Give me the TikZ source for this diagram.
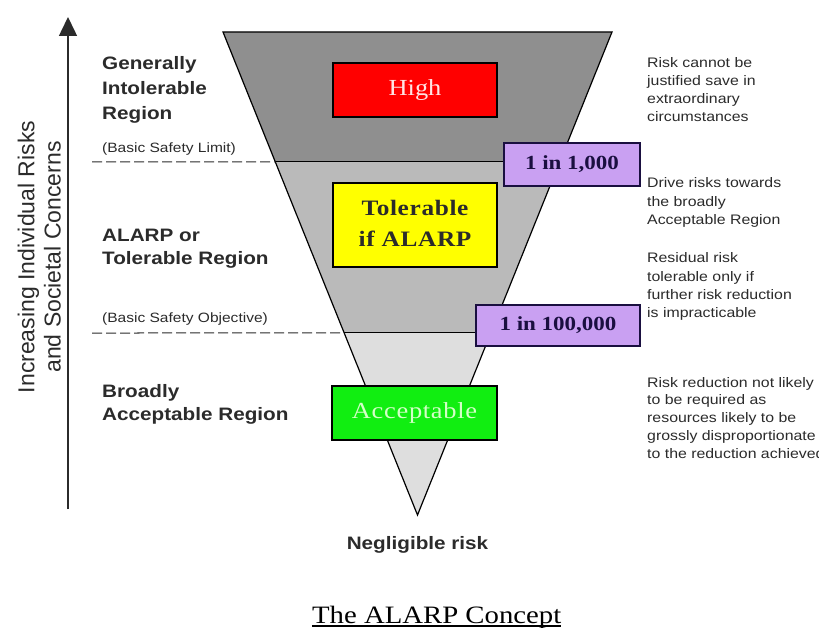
\documentclass[tikz,border=0pt]{standalone}
\usepackage{fontspec}
\setmainfont{Liberation Serif}
\newfontfamily\widesans[FakeStretch=1.15]{Liberation Sans}
\newfontfamily\wideserif[FakeStretch=1.15]{Liberation Serif}
\newfontfamily\boxserif[FakeStretch=1.15,LetterSpace=3]{Liberation Serif}
\newfontfamily\plainsans{Liberation Sans}
\usetikzlibrary{arrows.meta,calc}

\definecolor{bandtop}{HTML}{8F8F8F}
\definecolor{bandmid}{HTML}{BABABA}
\definecolor{bandlow}{HTML}{DEDEDE}
\definecolor{boxred}{HTML}{FF0000}
\definecolor{boxyellow}{HTML}{FFFF00}
\definecolor{boxgreen}{HTML}{11EE11}
\definecolor{boxlilac}{HTML}{C9A0F2}
\definecolor{inkgray}{HTML}{2B2B2B}
\definecolor{navyink}{HTML}{1A0F40}
\definecolor{pinkink}{HTML}{FFE4E4}
\definecolor{mintink}{HTML}{D4FFC8}

% left-aligned stack whose reference point is the first baseline
\newcommand{\stackl}[1]{\begin{tabular}[t]{@{}l@{}}#1\end{tabular}}
\newcommand{\stackc}[1]{\begin{tabular}{@{}c@{}}#1\end{tabular}}

\begin{document}
\begin{tikzpicture}[x=1pt,y=-1pt,
  levelbox/.style={draw=black,line width=2.6pt,inner sep=0pt},
  ratebox/.style={draw=navyink,line width=2.6pt,inner sep=0pt,fill=boxlilac,
    text=navyink,font=\wideserif\bfseries\fontsize{20}{24}\selectfont},
  zonelabel/.style={anchor=base west,inner sep=0pt,text=inkgray},
  limitlabel/.style={anchor=base west,inner sep=0pt,text=inkgray,
    font=\widesans\fontsize{13.5}{16}\selectfont},
  advice/.style={anchor=base west,inner sep=0pt,text=inkgray},
  limitline/.style={inkgray,line width=1pt,dash pattern=on 10pt off 4pt},
]
\useasboundingbox (0,0) rectangle (819,628);
\fill[white] (0,0) rectangle (819,628);

% funnel corners and band boundaries
\coordinate (TL) at (223,32);
\coordinate (TR) at (612,32);
\coordinate (AP) at (417.5,515);
\coordinate (L1) at ($(TL)!0.26915!(AP)$);
\coordinate (R1) at ($(TR)!0.26915!(AP)$);
\coordinate (L2) at ($(TL)!0.62319!(AP)$);
\coordinate (R2) at ($(TR)!0.62319!(AP)$);

\fill[bandtop] (TL) -- (TR) -- (R1) -- (L1) -- cycle;
\fill[bandmid] (L1) -- (R1) -- (R2) -- (L2) -- cycle;
\fill[bandlow] (L2) -- (R2) -- (AP) -- cycle;
\draw[black,line width=1.2pt,line join=miter] (TL) -- (TR) -- (AP) -- cycle;
\draw[black,line width=1pt] (L1) -- (R1);
\draw[black,line width=1pt] (L2) -- (R2);

% vertical axis
\coordinate (axisbot) at (68,509);
\coordinate (axistop) at (68,17);
\draw[inkgray,line width=1.5pt,-{Triangle[width=18pt,length=19pt]}] (axisbot) -- (axistop);
\node[rotate=90,inner sep=0pt,text=inkgray,font=\plainsans\fontsize{23}{26}\selectfont]
  (axislabel) at (42.3,257) {\stackc{Increasing Individual Risks\\and Societal Concerns}};

% limit lines
\coordinate (bslstart) at (92,162);
\coordinate (bsostart) at (92,333);
\draw[limitline] (bslstart) -- (L1);
\draw[limitline] (bsostart) -- (L2);

% region boxes
\node[levelbox,fill=boxred,minimum width=164pt,minimum height=54pt,text=pinkink,
  font=\wideserif\fontsize{23}{27}\selectfont] (high) at (415,90) {High};
\node[levelbox,fill=boxyellow,minimum width=164pt,minimum height=84pt,text=inkgray,
  font=\boxserif\bfseries\fontsize{22}{31}\selectfont] (tolerable) at (415,225)
  {\stackc{Tolerable\\if ALARP}};
\node[levelbox,fill=boxgreen,minimum width=165pt,minimum height=54pt,text=mintink,
  font=\boxserif\fontsize{23}{27}\selectfont] (acceptable) at (414.5,413) {Acceptable};

% risk frequency boxes
\node[ratebox,minimum width=136pt,minimum height=43pt] (thousand) at (572,164.5) {1 in 1,000};
\node[ratebox,minimum width=164pt,minimum height=41pt] (hthousand) at (558,325.5) {1 in 100,000};

% zone labels
\node[zonelabel,font=\widesans\bfseries\fontsize{18}{25}\selectfont] (intol) at (102,69.5)
  {\stackl{Generally\\Intolerable\\Region}};
\node[limitlabel] (bsl) at (102,153) {(Basic Safety Limit)};
\node[zonelabel,font=\widesans\bfseries\fontsize{18}{23}\selectfont] (alarp) at (102,241.5)
  {\stackl{ALARP or\\Tolerable Region}};
\node[limitlabel] (bso) at (102,323) {(Basic Safety Objective)};
\node[zonelabel,font=\widesans\bfseries\fontsize{18}{23}\selectfont] (broad) at (102,397.5)
  {\stackl{Broadly\\Acceptable Region}};

% advice texts
\node[advice,font=\widesans\fontsize{13.8}{18}\selectfont] (adv1) at (647,68)
  {\stackl{Risk cannot be\\justified save in\\extraordinary\\circumstances}};
\node[advice,font=\widesans\fontsize{13.8}{18.5}\selectfont] (adv2) at (647,188)
  {\stackl{Drive risks towards\\the broadly\\Acceptable Region}};
\node[advice,font=\widesans\fontsize{13.8}{18.3}\selectfont] (adv3) at (647,263)
  {\stackl{Residual risk\\tolerable only if\\further risk reduction\\is impracticable}};
\node[advice,font=\widesans\fontsize{13.8}{17.8}\selectfont] (adv4) at (647,387)
  {\stackl{Risk reduction not likely\\to be required as\\resources likely to be\\grossly disproportionate\\to the reduction achieved}};

% bottom texts
\node[anchor=base,inner sep=0pt,text=inkgray,font=\widesans\bfseries\fontsize{18}{22}\selectfont]
  (negligible) at (417.5,549.5) {Negligible risk};
\node[anchor=base,inner sep=0pt,text=black,font=\wideserif\fontsize{25}{30}\selectfont]
  (title) at (436.7,623.3) {The ALARP Concept};
\draw[black,line width=1.8pt] ($(title.base west)+(0,3)$) -- ($(title.base east)+(0,3)$);
\end{tikzpicture}
\end{document}
